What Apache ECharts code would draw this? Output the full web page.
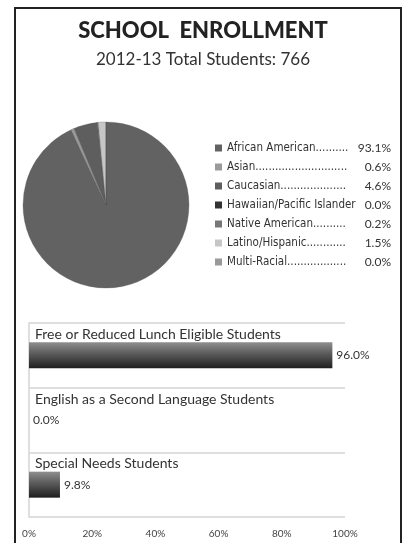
<!DOCTYPE html>
<html>
<head>
<meta charset="utf-8">
<script src="https://cdn.jsdelivr.net/npm/echarts@6/dist/echarts.min.js"></script>
<style>
  html, body { margin: 0; padding: 0; background: #fff; }
  #chart { width: 406px; height: 543px; }
  #frame {
    position: absolute; left: 14px; top: 7px; width: 384px; height: 560px;
    border: 2.5px solid #222; border-bottom: none; pointer-events: none;
  }
</style>
</head>
<body>
<div id="chart"></div>
<div id="frame"></div>
<script>
// enrollment breakdown (pie)
var groups = ['African American', 'Asian', 'Caucasian', 'Hawaiian/Pacific Islander', 'Native American', 'Latino/Hispanic', 'Multi-Racial']
var groupPct = [93.1, 0.6, 4.6, 0.0, 0.2, 1.5, 0.0]
var groupColors = ['#626262', '#9a9a9a', '#5e5e5e', '#333333', '#777777', '#c6c6c6', '#999999']

// bar section
var programs = ['Free or Reduced Lunch Eligible Students', 'English as a Second Language Students', 'Special Needs Students']
var programPct = [96.0, 0.0, 9.8]

var chart = echarts.init(document.getElementById('chart'))

var legendFont = '"DejaVu Sans Condensed", "Roboto"'

// pad legend names with dots up to a fixed width
var ctx = document.createElement('canvas').getContext('2d')
ctx.font = '11.5px ' + legendFont
function dotted(name) {
  var s = name
  while (ctx.measureText(s + '.').width < 122) s += '.'
  return s
}

var pieData = groups.map(function (g, i) {
  return { name: g, value: groupPct[i], itemStyle: { color: groupColors[i] } }
})

var barGrad = new echarts.graphic.LinearGradient(0, 0, 0, 1, [
  { offset: 0, color: '#8e8e8e' },
  { offset: 0.45, color: '#5a5a5a' },
  { offset: 1, color: '#1e1e1e' }
])

chart.setOption({
  animation: false,
  title: [
    { text: 'SCHOOL  ENROLLMENT', left: 'center', top: 15,
      textStyle: { fontFamily: 'Lato', fontWeight: 900, fontSize: 22, color: '#222' } },
    { text: '2012-13 Total Students: 766', left: 'center', top: 46,
      textStyle: { fontFamily: 'Lato', fontWeight: 'normal', fontSize: 17, color: '#333' } }
  ],
  legend: {
    orient: 'vertical', left: 210, top: 137, itemWidth: 7, itemHeight: 7, itemGap: 7,
    icon: 'rect', selectedMode: false,
    itemStyle: { borderWidth: 0 },
    data: groups,
    formatter: function (name) {
      var i = groups.indexOf(name)
      return '{n|' + dotted(name) + '}{v|' + groupPct[i].toFixed(1) + '%}'
    },
    textStyle: {
      rich: {
        n: { fontFamily: legendFont, fontSize: 11.5, color: '#333', width: 126, lineHeight: 12 },
        v: { fontFamily: 'Lato', fontSize: 12, color: '#333', width: 38, align: 'right', lineHeight: 12 }
      }
    }
  },
  grid: { left: 29, right: 61, top: 323, bottom: 26 },
  xAxis: {
    type: 'value', min: 0, max: 100, interval: 20,
    axisLine: { show: false }, axisTick: { show: false }, splitLine: { show: false },
    axisLabel: { formatter: '{value}%', fontFamily: 'Lato', fontSize: 10, color: '#444', margin: 12 }
  },
  yAxis: {
    type: 'category', inverse: true, data: programs,
    axisLine: { show: true, lineStyle: { color: '#d4d4d4', width: 1.5 } },
    axisTick: { show: false },
    splitLine: { show: true, lineStyle: { color: '#d4d4d4', width: 1.5 } },
    axisLabel: {
      inside: true, margin: 6, align: 'left', verticalAlign: 'middle',
      // two-line block: the name sits in the upper half of the band
      formatter: function (v) { return '{t|' + v + '}\n{s| }' },
      rich: {
        t: { fontFamily: 'Lato', fontSize: 14, color: '#333', lineHeight: 42 },
        s: { fontSize: 13, lineHeight: 42 }
      }
    }
  },
  series: [
    {
      type: 'pie', center: [106, 205], radius: 83, startAngle: 90, clockwise: true,
      label: { show: false }, labelLine: { show: false }, silent: true,
      itemStyle: { borderColor: '#555', borderWidth: 0.3 },
      data: pieData
    },
    {
      type: 'bar', data: programPct, barWidth: 26, silent: true,
      itemStyle: { color: barGrad },
      label: {
        show: true, position: 'right', distance: 4,
        formatter: function (p) { return p.value.toFixed(1) + '%' },
        fontFamily: 'Lato', fontSize: 12, color: '#333'
      }
    }
  ]
})
</script>
</body>
</html>
